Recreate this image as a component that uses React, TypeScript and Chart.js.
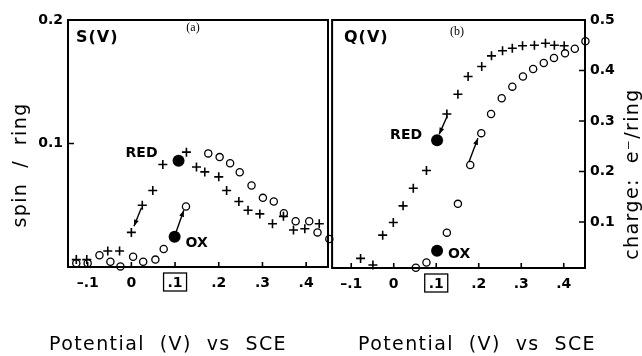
import React, { useEffect, useRef } from "react";
import { Chart, registerables } from "chart.js";
Chart.register(...registerables);

// ---- data ----
const xTickValues = [-0.1, 0, 0.1, 0.2, 0.3, 0.4];
const sTickValues = [0.1, 0.2];
const qTickValues = [0.1, 0.2, 0.3, 0.4, 0.5];

// S(V) panel (a): spin / ring
const sCrossV = [-0.126, -0.102, -0.054, -0.027, 0.0, 0.025, 0.049, 0.072, 0.126, 0.149, 0.168, 0.2, 0.218, 0.246, 0.267, 0.294, 0.323, 0.348, 0.371, 0.397, 0.43];
const sCrossY = [0.006, 0.006, 0.013, 0.013, 0.028, 0.05, 0.062, 0.083, 0.093, 0.081, 0.077, 0.073, 0.062, 0.053, 0.046, 0.043, 0.035, 0.041, 0.03, 0.031, 0.035];
const sCircV = [-0.126, -0.1, -0.073, -0.048, -0.025, 0.004, 0.027, 0.055, 0.074, 0.125, 0.176, 0.202, 0.226, 0.248, 0.275, 0.301, 0.326, 0.349, 0.376, 0.407, 0.426, 0.453];
const sCircY = [0.003, 0.003, 0.0095, 0.0043, 0.0005, 0.0083, 0.0043, 0.006, 0.0146, 0.049, 0.092, 0.089, 0.084, 0.0767, 0.066, 0.056, 0.053, 0.0435, 0.037, 0.037, 0.028, 0.0227];
const sRed = [0.108, 0.086];
const sOx = [0.099, 0.0245];
const sArrows = [
  [0.023, 0.048, 0.006, 0.033],
  [0.102, 0.028, 0.12, 0.046],
];

// Q(V) panel (b): charge e-/ring
const qCrossV = [-0.078, -0.049, -0.026, -0.001, 0.022, 0.046, 0.077, 0.125, 0.151, 0.175, 0.207, 0.23, 0.256, 0.279, 0.303, 0.331, 0.357, 0.378, 0.401];
const qCrossY = [0.028, 0.015, 0.074, 0.099, 0.132, 0.167, 0.202, 0.314, 0.353, 0.388, 0.408, 0.429, 0.439, 0.444, 0.449, 0.45, 0.454, 0.45, 0.449];
const qCircV = [0.052, 0.077, 0.125, 0.151, 0.18, 0.206, 0.229, 0.254, 0.279, 0.304, 0.328, 0.353, 0.377, 0.403, 0.426, 0.451];
const qCircY = [0.0095, 0.02, 0.079, 0.136, 0.213, 0.276, 0.314, 0.345, 0.368, 0.388, 0.403, 0.415, 0.425, 0.434, 0.443, 0.458];
const qRed = [0.102, 0.262];
const qOx = [0.102, 0.043];
const qArrows = [
  [0.126, 0.31, 0.107, 0.274],
  [0.177, 0.219, 0.198, 0.266],
];

const FONT = '"DejaVu Sans", sans-serif';

function pts(vs: number[], ys: number[]) {
  return vs.map((v, i) => ({ x: v, y: ys[i] }));
}

function fmtX(v: number) {
  if (Math.abs(v) < 1e-9) return "0";
  const s = Math.abs(v).toFixed(1).replace(/^0/, "");
  return (v < 0 ? "\u2013" : "") + s;
}

interface Panel {
  left: number;
  width: number;
  yMin: number;
  yMax: number;
  yTicks: number[];
  yPos: "left" | "right";
  yWidth: number;
  xHeight: number;
  padding: { left: number; right: number; top: number; bottom: number };
  crossV: number[];
  crossY: number[];
  circV: number[];
  circY: number[];
  red: number[];
  ox: number[];
  arrows: number[][];
  name: string;
  nameXY: [number, number];
  tag: string;
  tagXY: [number, number];
  yTitle: string;
  yTitleXY: [number, number];
  xTitle: string;
  xTitleXY: [number, number];
  redDx: number;
  redDy: number;
  oxDx: number;
  oxDy: number;
}

const panels: Panel[] = [
  {
    left: 0,
    width: 336,
    yMin: 0,
    yMax: 0.2,
    yTicks: sTickValues,
    yPos: "left",
    yWidth: 68,
    xHeight: 89,
    padding: { left: 0, right: 8, top: 20, bottom: 0 },
    crossV: sCrossV,
    crossY: sCrossY,
    circV: sCircV,
    circY: sCircY,
    red: sRed,
    ox: sOx,
    arrows: sArrows,
    name: "S(V)",
    nameXY: [76, 38],
    tag: "(a)",
    tagXY: [193, 28],
    yTitle: "spin  /  ring",
    yTitleXY: [21, 165],
    xTitle: "Potential  (V)  vs  SCE",
    xTitleXY: [168, 345],
    redDx: -21,
    redDy: -7,
    oxDx: 11,
    oxDy: 7,
  },
  {
    left: 326,
    width: 316,
    yMin: 0.009,
    yMax: 0.5,
    yTicks: qTickValues,
    yPos: "right",
    yWidth: 57,
    xHeight: 88,
    padding: { left: 2, right: 0, top: 20, bottom: 0 },
    crossV: qCrossV,
    crossY: qCrossY,
    circV: qCircV,
    circY: qCircY,
    red: qRed,
    ox: qOx,
    arrows: qArrows,
    name: "Q(V)",
    nameXY: [18, 38],
    tag: "(b)",
    tagXY: [131, 32],
    yTitle: "charge:  e\u207B/ring",
    yTitleXY: [307, 174],
    xTitle: "Potential  (V)  vs  SCE",
    xTitleXY: [151, 345],
    redDx: -15,
    redDy: -5,
    oxDx: 11,
    oxDy: 4,
  },
];

function makeChart(canvas: HTMLCanvasElement, p: Panel) {
  const deco = {
    id: "deco",
    afterDraw(chart: any) {
      const ctx = chart.ctx as CanvasRenderingContext2D;
      const a = chart.chartArea;
      const xs = chart.scales.x;
      const ys = chart.scales.y;
      ctx.save();
      ctx.strokeStyle = "#000";
      ctx.fillStyle = "#000";
      // frame
      ctx.lineWidth = 2;
      ctx.strokeRect(a.left, a.top, a.right - a.left, a.bottom - a.top);
      // inward ticks
      ctx.lineWidth = 1.6;
      ctx.beginPath();
      xTickValues.forEach((v) => {
        const px = xs.getPixelForValue(v);
        ctx.moveTo(px, a.bottom);
        ctx.lineTo(px, a.bottom - 5);
      });
      p.yTicks.forEach((v) => {
        const py = ys.getPixelForValue(v);
        if (p.yPos === "left") {
          ctx.moveTo(a.left, py);
          ctx.lineTo(a.left + 6, py);
        } else {
          ctx.moveTo(a.right, py);
          ctx.lineTo(a.right - 6, py);
        }
      });
      ctx.stroke();
      // box around .1
      const bx = xs.getPixelForValue(0.1);
      ctx.lineWidth = 1.3;
      ctx.strokeRect(bx - 11.5, a.bottom + 6, 23, 18);
      // arrows
      ctx.lineWidth = 1.4;
      p.arrows.forEach((ar) => {
        const x1 = xs.getPixelForValue(ar[0]);
        const y1 = ys.getPixelForValue(ar[1]);
        const x2 = xs.getPixelForValue(ar[2]);
        const y2 = ys.getPixelForValue(ar[3]);
        ctx.beginPath();
        ctx.moveTo(x1, y1);
        ctx.lineTo(x2, y2);
        ctx.stroke();
        const ang = Math.atan2(y2 - y1, x2 - x1);
        const L = 7;
        const W = 0.36;
        ctx.beginPath();
        ctx.moveTo(x2, y2);
        ctx.lineTo(x2 - L * Math.cos(ang - W), y2 - L * Math.sin(ang - W));
        ctx.lineTo(x2 - L * Math.cos(ang + W), y2 - L * Math.sin(ang + W));
        ctx.closePath();
        ctx.fill();
      });
      // RED / OX labels
      ctx.font = `bold 14px ${FONT}`;
      ctx.textBaseline = "middle";
      const rx = xs.getPixelForValue(p.red[0]);
      const ry = ys.getPixelForValue(p.red[1]);
      ctx.textAlign = "right";
      ctx.fillText("RED", rx + p.redDx, ry + p.redDy);
      const ox = xs.getPixelForValue(p.ox[0]);
      const oy = ys.getPixelForValue(p.ox[1]);
      ctx.textAlign = "left";
      ctx.fillText("OX", ox + p.oxDx, oy + p.oxDy);
      // panel name
      ctx.font = `bold 16px ${FONT}`;
      ctx.textAlign = "left";
      (ctx as any).letterSpacing = "1px";
      ctx.fillText(p.name, p.nameXY[0], p.nameXY[1]);
      (ctx as any).letterSpacing = "0px";
      ctx.font = `12px "Liberation Serif", serif`;
      ctx.textAlign = "center";
      ctx.fillText(p.tag, p.tagXY[0], p.tagXY[1]);
      // axis titles
      ctx.font = `19px ${FONT}`;
      (ctx as any).letterSpacing = "1.4px";
      ctx.textAlign = "center";
      ctx.fillText(p.xTitle, p.xTitleXY[0], p.xTitleXY[1]);
      ctx.save();
      ctx.translate(p.yTitleXY[0], p.yTitleXY[1]);
      ctx.rotate(-Math.PI / 2);
      ctx.fillText(p.yTitle, 0, 0);
      ctx.restore();
      (ctx as any).letterSpacing = "0px";
      ctx.restore();
    },
  };

  const tickFont = { family: FONT, size: 14, weight: "bold" as const };

  return new Chart(canvas, {
    type: "scatter",
    data: {
      datasets: [
        {
          label: "cross",
          data: pts(p.crossV, p.crossY),
          pointStyle: "cross",
          pointRadius: 4.5,
          borderWidth: 1.6,
          borderColor: "#000",
          backgroundColor: "#000",
          clip: false,
        } as any,
        {
          label: "circle",
          data: pts(p.circV, p.circY),
          pointStyle: "circle",
          pointRadius: 3.6,
          borderWidth: 1.3,
          borderColor: "#000",
          backgroundColor: "#fff",
          clip: false,
        },
        {
          label: "filled",
          data: [
            { x: p.red[0], y: p.red[1] },
            { x: p.ox[0], y: p.ox[1] },
          ],
          pointStyle: "circle",
          pointRadius: 6,
          borderWidth: 0,
          borderColor: "#000",
          backgroundColor: "#000",
          clip: false,
        },
      ],
    },
    options: {
      responsive: false,
      animation: false,
      events: [],
      layout: { padding: p.padding },
      plugins: { legend: { display: false }, tooltip: { enabled: false } },
      scales: {
        x: {
          type: "linear",
          position: "bottom",
          min: -0.145,
          max: 0.45,
          grid: { display: false, drawTicks: false },
          border: { display: false },
          afterBuildTicks: (axis: any) => {
            axis.ticks = xTickValues.map((value) => ({ value }));
          },
          afterFit: (axis: any) => {
            axis.height = p.xHeight;
          },
          ticks: {
            color: "#000",
            font: tickFont,
            padding: 8,
            maxRotation: 0,
            autoSkip: false,
            callback: (v: any) => fmtX(Number(v)),
          },
        },
        y: {
          type: "linear",
          position: p.yPos,
          min: p.yMin,
          max: p.yMax,
          grid: { display: false, drawTicks: false },
          border: { display: false },
          afterBuildTicks: (axis: any) => {
            axis.ticks = p.yTicks.map((value) => ({ value }));
          },
          afterFit: (axis: any) => {
            axis.width = p.yWidth;
          },
          ticks: {
            color: "#000",
            font: tickFont,
            padding: 5,
            autoSkip: false,
            callback: (v: any) => Number(v).toFixed(1),
          },
        },
      },
    },
    plugins: [deco],
  } as any);
}

function PanelView({ p }: { p: Panel }) {
  const ref = useRef<HTMLCanvasElement | null>(null);
  useEffect(() => {
    if (!ref.current) return;
    const c = makeChart(ref.current, p);
    return () => c.destroy();
  }, [p]);
  return (
    <canvas
      ref={ref}
      width={p.width}
      height={356}
      style={{ position: "absolute", left: p.left, top: 0, width: p.width, height: 356 }}
    />
  );
}

export default function App() {
  return (
    <div style={{ position: "absolute", left: 0, top: 0, width: 642, height: 356, background: "#fff", overflow: "hidden" }}>
      {panels.map((p, i) => (
        <PanelView key={i} p={p} />
      ))}
    </div>
  );
}
